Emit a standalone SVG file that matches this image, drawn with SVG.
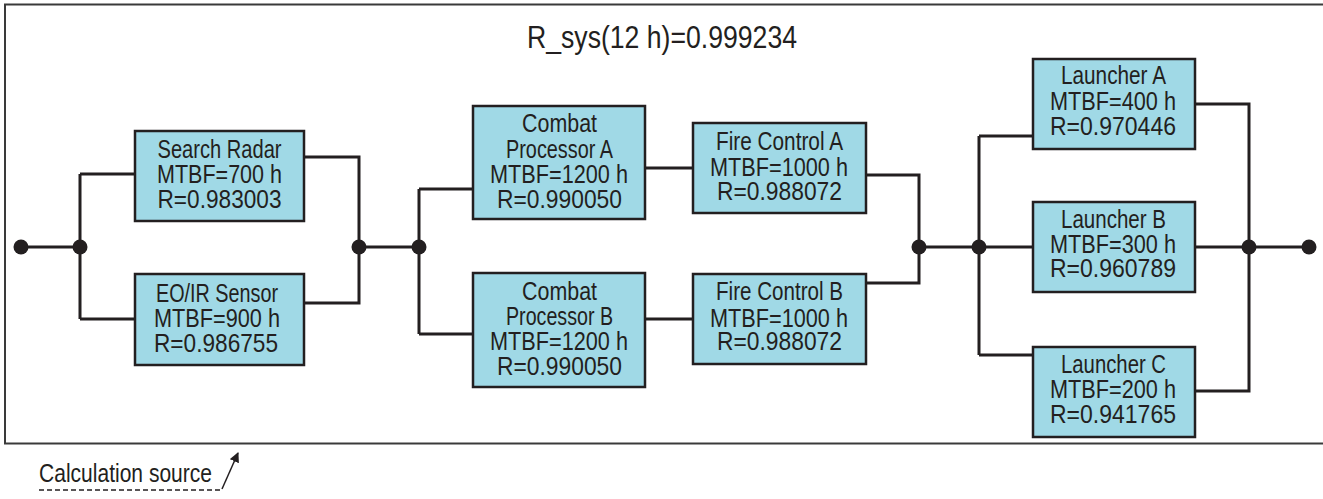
<svg xmlns="http://www.w3.org/2000/svg" width="1323" height="499" viewBox="0 0 1323 499">
<style>
.frame{fill:#fff;stroke:#3a3a3a;stroke-width:2}
.box{fill:#a0d9e6;stroke:#231f20;stroke-width:2.5}
.wire{fill:none;stroke:#231f20;stroke-width:3}
.dot{fill:#231f20}
text{font-family:"Liberation Sans",Arial,sans-serif;fill:#231f20}
.t{font-size:25px;text-anchor:middle}
.title{font-size:32px;text-anchor:middle}
.cap{font-size:25px}
</style>
<defs>
<marker id="ah" viewBox="0 0 10 10" refX="9" refY="5" markerWidth="10" markerHeight="10" markerUnits="userSpaceOnUse" orient="auto">
<path d="M0,0 L10,5 L0,10 z" fill="#231f20"/>
</marker>
</defs>
<rect class="frame" x="5" y="4.5" width="1330" height="439"/>
<text class="title" x="662" y="48" textLength="270" lengthAdjust="spacingAndGlyphs">R_sys(12 h)=0.999234</text>
<g id="connectors">
<path class="wire" d="M21,247 H80 M80,174 V319 M80,174 H135 M80,319 H135"/>
<path class="wire" d="M304,157 H359 V303 H304 M359,247 H419"/>
<path class="wire" d="M419,189 V334 M419,189 H473 M419,334 H473"/>
<path class="wire" d="M645,168 H693 M645,319 H693"/>
<path class="wire" d="M866,175 H919 V283 H866 M919,247 H979"/>
<path class="wire" d="M979,136 V355 M979,136 H1033 M979,247 H1033 M979,355 H1033"/>
<path class="wire" d="M1195,104 H1249 V391 H1195 M1195,247 H1309"/>
<circle class="dot" cx="21" cy="247" r="7.5"/>
<circle class="dot" cx="80" cy="247" r="7.5"/>
<circle class="dot" cx="359" cy="247" r="7.5"/>
<circle class="dot" cx="419" cy="247" r="7.5"/>
<circle class="dot" cx="919" cy="247" r="7.5"/>
<circle class="dot" cx="979" cy="247" r="7.5"/>
<circle class="dot" cx="1249" cy="247" r="7.5"/>
<circle class="dot" cx="1309" cy="247" r="7.5"/>
</g>
<g id="search-radar">
<rect class="box" x="135" y="131" width="169" height="90"/>
<text class="t" x="219.5" y="158" textLength="124" lengthAdjust="spacingAndGlyphs">Search Radar</text>
<text class="t" x="219.5" y="183" textLength="125" lengthAdjust="spacingAndGlyphs">MTBF=700 h</text>
<text class="t" x="219.5" y="208" textLength="124" lengthAdjust="spacingAndGlyphs">R=0.983003</text>
</g>
<g id="eoir-sensor">
<rect class="box" x="135" y="274" width="169" height="91"/>
<text class="t" x="217" y="302" textLength="122" lengthAdjust="spacingAndGlyphs">EO/IR Sensor</text>
<text class="t" x="217" y="327" textLength="126" lengthAdjust="spacingAndGlyphs">MTBF=900 h</text>
<text class="t" x="216" y="352" textLength="124" lengthAdjust="spacingAndGlyphs">R=0.986755</text>
</g>
<g id="combat-processor-a">
<rect class="box" x="473" y="106" width="172" height="113"/>
<text class="t" x="559.5" y="132" textLength="75" lengthAdjust="spacingAndGlyphs">Combat</text>
<text class="t" x="559.5" y="158" textLength="107" lengthAdjust="spacingAndGlyphs">Processor A</text>
<text class="t" x="559" y="183" textLength="138" lengthAdjust="spacingAndGlyphs">MTBF=1200 h</text>
<text class="t" x="559.5" y="208" textLength="125" lengthAdjust="spacingAndGlyphs">R=0.990050</text>
</g>
<g id="combat-processor-b">
<rect class="box" x="473" y="273" width="172" height="114"/>
<text class="t" x="559.5" y="300" textLength="75" lengthAdjust="spacingAndGlyphs">Combat</text>
<text class="t" x="559.5" y="325" textLength="107" lengthAdjust="spacingAndGlyphs">Processor B</text>
<text class="t" x="559" y="350" textLength="138" lengthAdjust="spacingAndGlyphs">MTBF=1200 h</text>
<text class="t" x="559.5" y="375" textLength="125" lengthAdjust="spacingAndGlyphs">R=0.990050</text>
</g>
<g id="fire-control-a">
<rect class="box" x="693" y="123" width="173" height="90"/>
<text class="t" x="779.5" y="150" textLength="127" lengthAdjust="spacingAndGlyphs">Fire Control A</text>
<text class="t" x="779" y="176" textLength="138" lengthAdjust="spacingAndGlyphs">MTBF=1000 h</text>
<text class="t" x="779.5" y="200" textLength="125" lengthAdjust="spacingAndGlyphs">R=0.988072</text>
</g>
<g id="fire-control-b">
<rect class="box" x="693" y="274" width="173" height="90"/>
<text class="t" x="779.5" y="300" textLength="127" lengthAdjust="spacingAndGlyphs">Fire Control B</text>
<text class="t" x="779" y="327" textLength="138" lengthAdjust="spacingAndGlyphs">MTBF=1000 h</text>
<text class="t" x="779.5" y="350" textLength="125" lengthAdjust="spacingAndGlyphs">R=0.988072</text>
</g>
<g id="launcher-a">
<rect class="box" x="1033" y="59" width="162" height="90"/>
<text class="t" x="1113.5" y="84" textLength="105" lengthAdjust="spacingAndGlyphs">Launcher A</text>
<text class="t" x="1113" y="110" textLength="126" lengthAdjust="spacingAndGlyphs">MTBF=400 h</text>
<text class="t" x="1113" y="135" textLength="126" lengthAdjust="spacingAndGlyphs">R=0.970446</text>
</g>
<g id="launcher-b">
<rect class="box" x="1033" y="202" width="162" height="90"/>
<text class="t" x="1113.5" y="228" textLength="105" lengthAdjust="spacingAndGlyphs">Launcher B</text>
<text class="t" x="1113" y="253" textLength="126" lengthAdjust="spacingAndGlyphs">MTBF=300 h</text>
<text class="t" x="1113" y="277" textLength="126" lengthAdjust="spacingAndGlyphs">R=0.960789</text>
</g>
<g id="launcher-c">
<rect class="box" x="1033" y="347" width="162" height="90"/>
<text class="t" x="1113.5" y="373" textLength="105" lengthAdjust="spacingAndGlyphs">Launcher C</text>
<text class="t" x="1113" y="398" textLength="126" lengthAdjust="spacingAndGlyphs">MTBF=200 h</text>
<text class="t" x="1113" y="423" textLength="126" lengthAdjust="spacingAndGlyphs">R=0.941765</text>
</g>
<g id="calculation-source">
<text class="cap" x="39" y="482" textLength="173" lengthAdjust="spacingAndGlyphs">Calculation source</text>
<path d="M39,490 H221" fill="none" stroke="#231f20" stroke-width="1.5" stroke-dasharray="5,3"/>
<path d="M222,489 L238,453" fill="none" stroke="#231f20" stroke-width="1.5" marker-end="url(#ah)"/>
</g>
</svg>
